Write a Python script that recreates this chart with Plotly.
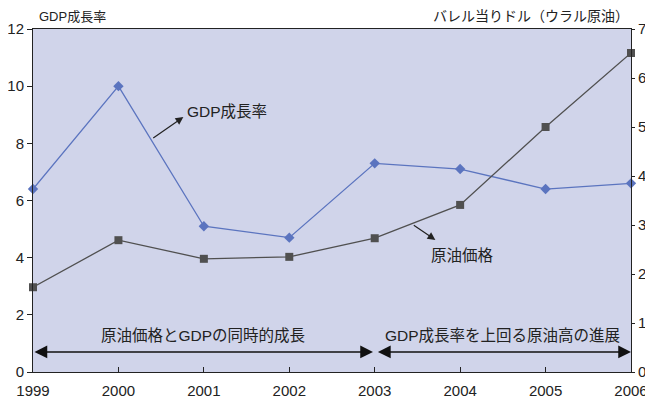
import plotly.graph_objects as go

years = [1999, 2000, 2001, 2002, 2003, 2004, 2005, 2006]
gdp_growth = [6.4, 10.0, 5.1, 4.7, 7.3, 7.1, 6.4, 6.6]
oil_price = [17.3, 26.9, 23.1, 23.5, 27.3, 34.1, 50.0, 65.1]

left_ticks = [0, 2, 4, 6, 8, 10, 12]
right_ticks = [0, 10, 20, 30, 40, 50, 60, 70]

FONT = "Liberation Sans, Arial, Noto Sans CJK JP, sans-serif"
BLUE = "#5B74BF"
GRAY = "#505050"
TXT = "#222"

fig = go.Figure()
fig.add_trace(go.Scatter(
    x=years, y=gdp_growth, mode="lines+markers", name="GDP成長率",
    line=dict(color=BLUE, width=1.3),
    marker=dict(symbol="diamond", size=8, color=BLUE),
    yaxis="y", cliponaxis=False))
fig.add_trace(go.Scatter(
    x=years, y=oil_price, mode="lines+markers", name="原油価格",
    line=dict(color=GRAY, width=1.3),
    marker=dict(symbol="square", size=8, color=GRAY),
    yaxis="y2", cliponaxis=False))

annotations = [
    dict(text="GDP成長率", xref="paper", yref="paper", x=0.007, y=1.0,
         xanchor="left", yanchor="bottom", yshift=3, showarrow=False,
         font=dict(size=13, color=TXT)),
    dict(text="バレル当りドル（ウラル原油）", xref="paper", yref="paper", x=1.0, y=1.0,
         xanchor="right", yanchor="bottom", yshift=3, showarrow=False,
         font=dict(size=14, color=TXT)),
    # series labels with arrows
    dict(text="GDP成長率", x=2000.78, y=9.13, xref="x", yref="y",
         xanchor="left", yanchor="middle", showarrow=False,
         font=dict(size=15.5, color=TXT)),
    dict(text="", x=2000.76, y=8.92, ax=2000.39, ay=8.15, xref="x", yref="y",
         axref="x", ayref="y", showarrow=True, arrowhead=2, arrowsize=1.3,
         arrowwidth=1.2, arrowcolor=TXT),
    dict(text="原油価格", x=2003.63, y=4.09, xref="x", yref="y",
         xanchor="left", yanchor="middle", showarrow=False,
         font=dict(size=15.5, color=TXT)),
    dict(text="", x=2003.71, y=4.62, ax=2003.44, ay=5.17, xref="x", yref="y",
         axref="x", ayref="y", showarrow=True, arrowhead=2, arrowsize=1.3,
         arrowwidth=1.2, arrowcolor=TXT),
    # period arrows
    dict(text="原油価格とGDPの同時的成長", x=2000.99, y=1.29, xref="x", yref="y",
         xanchor="center", yanchor="middle", showarrow=False,
         font=dict(size=15.5, color=TXT)),
    dict(text="GDP成長率を上回る原油高の進展", x=2004.49, y=1.29, xref="x", yref="y",
         xanchor="center", yanchor="middle", showarrow=False,
         font=dict(size=15.5, color=TXT)),
    dict(text="", x=2002.98, y=0.7, ax=1999.0, ay=0.7, xref="x", yref="y",
         axref="x", ayref="y", showarrow=True, arrowhead=2, startarrowhead=2,
         arrowside="end+start", arrowsize=1.7, startarrowsize=1.7,
         arrowwidth=1.5, arrowcolor="#111"),
    dict(text="", x=2006.0, y=0.7, ax=2003.02, ay=0.7, xref="x", yref="y",
         axref="x", ayref="y", showarrow=True, arrowhead=2, startarrowhead=2,
         arrowside="end+start", arrowsize=1.7, startarrowsize=1.7,
         arrowwidth=1.5, arrowcolor="#111"),
]

# the page body has an 8px margin, so the figure is sized to fit the window
fig.update_layout(
    width=645, height=392,
    margin=dict(l=25, r=22, t=21, b=28),
    paper_bgcolor="white", plot_bgcolor="#D0D4EA",
    showlegend=False,
    font=dict(family=FONT, size=15, color=TXT),
    xaxis=dict(range=[1999, 2006], tickvals=years, ticktext=[str(y) for y in years],
               ticks="inside", ticklen=5, tickcolor=TXT, showgrid=False,
               zeroline=False, showline=True, linecolor=TXT, linewidth=1,
               mirror=True, tickfont=dict(size=15), automargin=False,
               ticklabelstandoff=5),
    yaxis=dict(range=[0, 12], tickvals=left_ticks, ticks="outside", ticklen=5,
               tickcolor=TXT, showgrid=False, zeroline=False, showline=True,
               linecolor=TXT, linewidth=1, tickfont=dict(size=15),
               automargin=False),
    yaxis2=dict(range=[0, 70], tickvals=right_ticks, overlaying="y", side="right",
                ticks="outside", ticklen=3, tickcolor=TXT, showgrid=False,
                zeroline=False, showline=True, linecolor=TXT, linewidth=1,
                tickfont=dict(size=15), automargin=False),
    annotations=annotations,
)

fig.write_html("out.html")
